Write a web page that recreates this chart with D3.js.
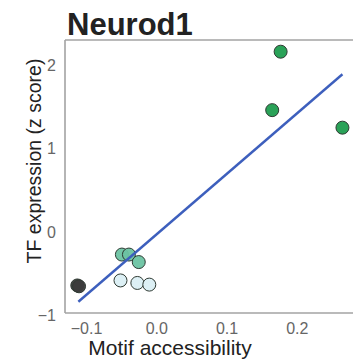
<!DOCTYPE html>
<html>
<head>
<meta charset="utf-8">
<script src="https://cdn.jsdelivr.net/npm/d3@7"></script>
<style>
  html, body { margin: 0; padding: 0; background: #fff; }
  svg { display: block; font-family: "Liberation Sans", Arial, sans-serif; }
</style>
</head>
<body>
<svg id="chart" width="353" height="364"></svg>
<script>
// Motif accessibility vs TF expression for Neurod1, points grouped by cell state
const groups = ["dark", "dark", "light", "light", "light", "teal", "teal", "teal", "green", "green", "green"];
const accessibility = [-0.1125, -0.110, -0.051, -0.027, -0.010, -0.049, -0.039, -0.025, 0.165, 0.177, 0.265];
const expression = [-0.64, -0.65, -0.58, -0.61, -0.63, -0.27, -0.27, -0.36, 1.46, 2.16, 1.25];
const groupColors = { dark: "#3c3c3c", light: "#dbeff4", teal: "#6cc3a2", green: "#1f9d4f" };

// Fitted trend line end points
const fitX = [-0.111, 0.265];
const fitY = [-0.835, 1.89];

const xTicks = [-0.1, 0.0, 0.1, 0.2];
const yTicks = [-1, 0, 1, 2];

const svg = d3.select("#chart");
const x = d3.scaleLinear().domain([-0.13, 0.29]).range([65, 360]);
const y = d3.scaleLinear().domain([-0.97, 2.30]).range([313, 40]);

// Frame: left, top and bottom lines
const frame = svg.append("g").attr("stroke", "#a3a3a3").attr("stroke-width", 1.6);
frame.append("line").attr("x1", x.range()[0]).attr("x2", x.range()[0]).attr("y1", y.range()[1]).attr("y2", y.range()[0]);
frame.append("line").attr("x1", x.range()[0]).attr("x2", x.range()[1]).attr("y1", y.range()[1]).attr("y2", y.range()[1]);
frame.append("line").attr("x1", x.range()[0]).attr("x2", x.range()[1]).attr("y1", y.range()[0]).attr("y2", y.range()[0]);

// Axes (labels only, no tick marks)
const xAxis = svg.append("g")
  .attr("transform", `translate(0,${y.range()[0]})`)
  .call(d3.axisBottom(x).tickValues(xTicks).tickFormat(d3.format(".1f")).tickSize(0).tickPadding(10));
const yAxis = svg.append("g")
  .attr("transform", `translate(${x.range()[0]},0)`)
  .call(d3.axisLeft(y).tickValues(yTicks).tickFormat(d3.format("d")).tickSize(0).tickPadding(9));
[xAxis, yAxis].forEach(a => {
  a.select(".domain").remove();
  a.selectAll("text").attr("fill", "#666").style("font-size", "16px").style("font-family", "Liberation Sans, Arial, sans-serif");
});

// Points
svg.append("g").selectAll("circle")
  .data(d3.range(groups.length))
  .join("circle")
  .attr("cx", i => x(accessibility[i]))
  .attr("cy", i => y(expression[i]))
  .attr("r", 6.5)
  .attr("fill", i => groupColors[groups[i]])
  .attr("fill-opacity", 0.95)
  .attr("stroke", "#2f3a33")
  .attr("stroke-width", 1);

// Trend line
svg.append("line")
  .attr("x1", x(fitX[0])).attr("y1", y(fitY[0]))
  .attr("x2", x(fitX[1])).attr("y2", y(fitY[1]))
  .attr("stroke", "#3d5fbd").attr("stroke-width", 2.4);

// Titles
svg.append("text").attr("x", 67).attr("y", 35)
  .attr("font-weight", "bold").attr("font-size", 31).attr("fill", "#222")
  .text("Neurod1");
svg.append("text").attr("x", 170).attr("y", 355).attr("text-anchor", "middle")
  .attr("font-size", 21).attr("fill", "#222")
  .text("Motif accessibility");
svg.append("text").attr("transform", "translate(41,161) rotate(-90)").attr("text-anchor", "middle")
  .attr("font-size", 19.5).attr("fill", "#222")
  .text("TF expression (z score)");
</script>
</body>
</html>
